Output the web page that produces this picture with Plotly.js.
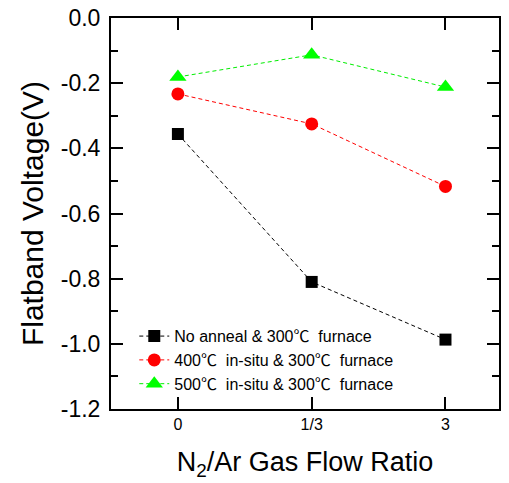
<!DOCTYPE html>
<html>
<head>
<meta charset="utf-8">
<script src="https://cdn.plot.ly/plotly-3.0.1.min.js"></script>
<style>html,body{margin:0;padding:0;background:#fff;}</style>
</head>
<body>
<div id="chart" style="width:509px;height:483px;"></div>
<script>
const categories = ["0", "1/3", "3"];
const noAnneal = [-0.356, -0.81, -0.987];
const insitu400 = [-0.233, -0.325, -0.517];
const insitu500 = [-0.181, -0.113, -0.212];
const seriesNames = [
  "No anneal & 300\u2103\u00a0\u00a0furnace",
  "400\u2103\u00a0\u00a0in-situ & 300\u2103\u00a0\u00a0furnace",
  "500\u2103\u00a0\u00a0in-situ & 300\u2103\u00a0\u00a0furnace"
];
const yTickVals = [0.0, -0.2, -0.4, -0.6, -0.8, -1.0, -1.2];
const yTickText = ["0.0", "-0.2", "-0.4", "-0.6", "-0.8", "-1.0", "-1.2"];

const font = "Arial, 'Liberation Sans', 'Noto Sans CJK SC', sans-serif";

const traces = [
  {x: categories, y: noAnneal, name: seriesNames[0], mode: "lines+markers",
   line: {color: "#000000", width: 1, dash: "4px,3px"},
   marker: {symbol: "square", size: 12, color: "#000000"}},
  {x: categories, y: insitu400, name: seriesNames[1], mode: "lines+markers",
   line: {color: "#ff0000", width: 1, dash: "4px,3px"},
   marker: {symbol: "circle", size: 13, color: "#ff0000"}},
  {x: categories, y: insitu500, name: seriesNames[2], mode: "lines+markers",
   line: {color: "#00ee00", width: 1, dash: "4px,3px"},
   marker: {symbol: "triangle-up", size: 15, color: "#00ff00"}}
];

const layout = {
  width: 509, height: 483,
  margin: {l: 111, r: 10, t: 18, b: 74},
  paper_bgcolor: "#ffffff", plot_bgcolor: "#ffffff",
  font: {family: font, color: "#000"},
  showlegend: true,
  legend: {x: 0.06, y: 0.02, xanchor: "left", yanchor: "bottom",
           bgcolor: "rgba(0,0,0,0)", font: {family: font, size: 16, color: "#000"},
           tracegroupgap: 0},
  xaxis: {
    type: "category", categoryarray: categories, range: [-0.5, 2.4],
    showline: true, linecolor: "#000", linewidth: 2, mirror: "ticks",
    ticks: "inside", ticklen: 12, tickwidth: 2, tickcolor: "#000",
    showgrid: false, zeroline: false,
    tickfont: {family: font, size: 16},
    title: {text: "N<sub>2</sub>/Ar Gas Flow Ratio", font: {family: font, size: 27}, standoff: 20}
  },
  yaxis: {
    range: [-1.2, 0.0],
    tickvals: yTickVals, ticktext: yTickText,
    showline: true, linecolor: "#000", linewidth: 2, mirror: "ticks",
    ticks: "inside", ticklen: 12, tickwidth: 2, tickcolor: "#000",
    minor: {dtick: 0.1, tick0: 0, ticks: "inside", ticklen: 7, tickwidth: 2, tickcolor: "#000", showgrid: false},
    showgrid: false, zeroline: false,
    tickfont: {family: font, size: 23},
    ticklabelstandoff: 4,
    title: {text: "Flatband Voltage(V)", font: {family: font, size: 30}, standoff: 8}
  }
};

Plotly.newPlot("chart", traces, layout, {displayModeBar: false, staticPlot: true});
</script>
</body>
</html>
